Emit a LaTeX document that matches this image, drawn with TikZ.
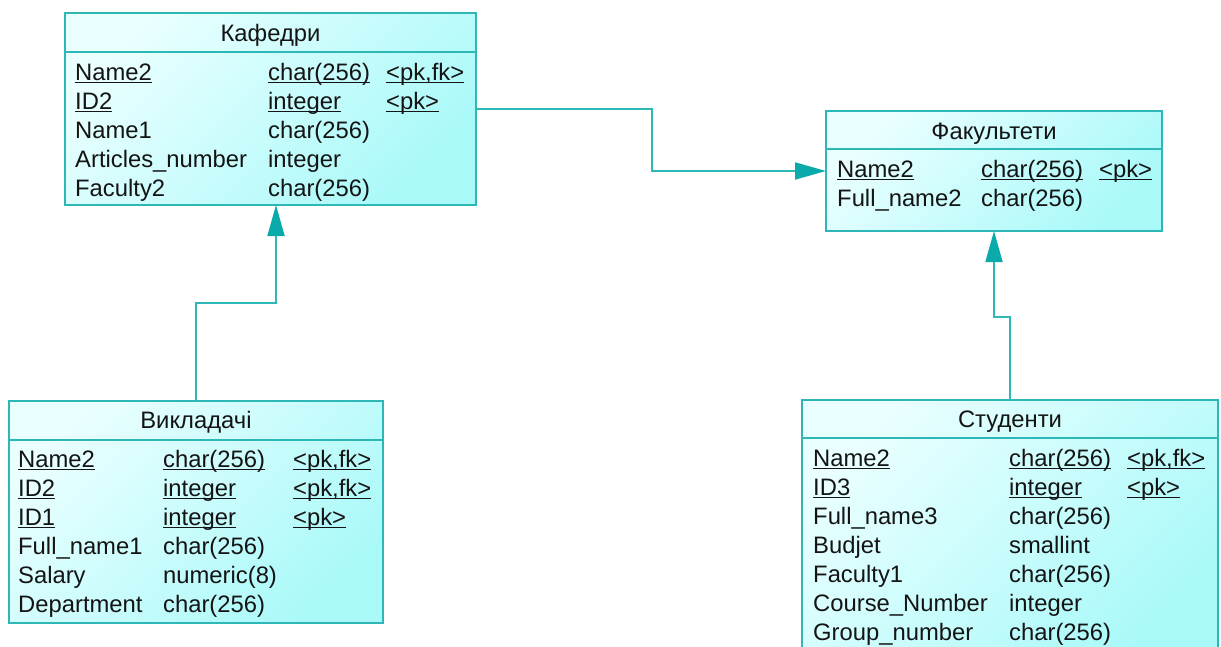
\documentclass[tikz,border=0pt]{standalone}
\usepackage{fontspec}
\setmainfont{Liberation Sans}
\usetikzlibrary{arrows.meta}
\definecolor{edge}{HTML}{2DB7B7}
\definecolor{arrowfill}{HTML}{0AAAAA}
\definecolor{cA}{HTML}{EAFFFF}
\definecolor{cB}{HTML}{AAF9F9}
\definecolor{ink}{HTML}{141414}
\newcommand\keyu[1]{\setbox0=\hbox{#1}\rlap{\rule[-3pt]{\wd0}{1.5pt}}\box0}
\newcommand\fs{\fontsize{23.8}{28}\selectfont}
% one table row: prefix, index, baseline y, three column x, three texts
\newcommand\trow[9]{%
  \node[fld] (#1-#2a) at (#4,#3) {#7};
  \node[fld] (#1-#2b) at (#5,#3) {#8};
  \node[fld] (#1-#2c) at (#6,#3) {#9};}
\tikzset{
  tbl/.style={rectangle, draw=edge, line width=1.5pt, inner sep=0pt, outer sep=0pt,
    anchor=north west, shading=axis, top color=cA, bottom color=cB, shading angle=45},
  sep/.style={draw=edge, line width=1.5pt},
  fld/.style={anchor=base west, inner sep=0pt, font=\fs, text=ink},
  ttl/.style={anchor=base, inner sep=0pt, font=\fs, text=ink},
  link/.style={draw=edge, line width=1.8pt,
    -{Triangle[length=31pt,width=17pt,fill=arrowfill,color=arrowfill]}},
}
\begin{document}
\begin{tikzpicture}[x=1pt,y=-1pt]
\useasboundingbox (0,0) rectangle (1221,646);
\clip (0,0) rectangle (1221,646);

% Кафедри
\node[tbl, minimum width=411pt, minimum height=192pt] (kaf) at (65,13) {};
\draw[sep] (65,52) -- (476,52);
\node[ttl] (kaf-t) at (270.5,41) {Кафедри};
\trow{kaf}{1}{80}{75}{268}{386}{\keyu{Name2}}{\keyu{char(256)}}{\keyu{<pk,fk>}}
\trow{kaf}{2}{109}{75}{268}{386}{\keyu{ID2}}{\keyu{integer}}{\keyu{<pk>}}
\trow{kaf}{3}{138}{75}{268}{386}{Name1}{char(256)}{}
\trow{kaf}{4}{167}{75}{268}{386}{Articles\_number}{integer}{}
\trow{kaf}{5}{196}{75}{268}{386}{Faculty2}{char(256)}{}

% Факультети
\node[tbl, minimum width=336pt, minimum height=120pt] (fac) at (826,111) {};
\draw[sep] (826,149) -- (1162,149);
\node[ttl] (fac-t) at (994,139) {Факультети};
\trow{fac}{1}{177}{837}{981}{1099}{\keyu{Name2}}{\keyu{char(256)}}{\keyu{<pk>}}
\trow{fac}{2}{206}{837}{981}{1099}{Full\_name2}{char(256)}{}

% Викладачі
\node[tbl, minimum width=374pt, minimum height=222pt] (vyk) at (9,401) {};
\draw[sep] (9,440) -- (383,440);
\node[ttl] (vyk-t) at (196,428) {Викладачі};
\trow{vyk}{1}{467}{18}{163}{293}{\keyu{Name2}}{\keyu{char(256)}}{\keyu{<pk,fk>}}
\trow{vyk}{2}{496}{18}{163}{293}{\keyu{ID2}}{\keyu{integer}}{\keyu{<pk,fk>}}
\trow{vyk}{3}{525}{18}{163}{293}{\keyu{ID1}}{\keyu{integer}}{\keyu{<pk>}}
\trow{vyk}{4}{554}{18}{163}{293}{Full\_name1}{char(256)}{}
\trow{vyk}{5}{583}{18}{163}{293}{Salary}{numeric(8)}{}
\trow{vyk}{6}{612}{18}{163}{293}{Department}{char(256)}{}

% Студенти
\node[tbl, minimum width=416pt, minimum height=260pt] (stud) at (802,400) {};
\draw[sep] (802,438) -- (1218,438);
\node[ttl] (stud-t) at (1010,427) {Студенти};
\trow{stud}{1}{466}{813}{1009}{1127}{\keyu{Name2}}{\keyu{char(256)}}{\keyu{<pk,fk>}}
\trow{stud}{2}{495}{813}{1009}{1127}{\keyu{ID3}}{\keyu{integer}}{\keyu{<pk>}}
\trow{stud}{3}{524}{813}{1009}{1127}{Full\_name3}{char(256)}{}
\trow{stud}{4}{553}{813}{1009}{1127}{Budjet}{smallint}{}
\trow{stud}{5}{582}{813}{1009}{1127}{Faculty1}{char(256)}{}
\trow{stud}{6}{611}{813}{1009}{1127}{Course\_Number}{integer}{}
\trow{stud}{7}{640}{813}{1009}{1127}{Group\_number}{char(256)}{}

% references
\draw[link] (kaf.east) -- (kaf.east -| 652,0) |- (fac.west);
\draw[link] (vyk.north) |- (276,303) -- ([xshift=5.5pt]kaf.south);
\draw[link] (stud.north) |- (fac.south |- 0,317) -- (fac.south);
\end{tikzpicture}
\end{document}
